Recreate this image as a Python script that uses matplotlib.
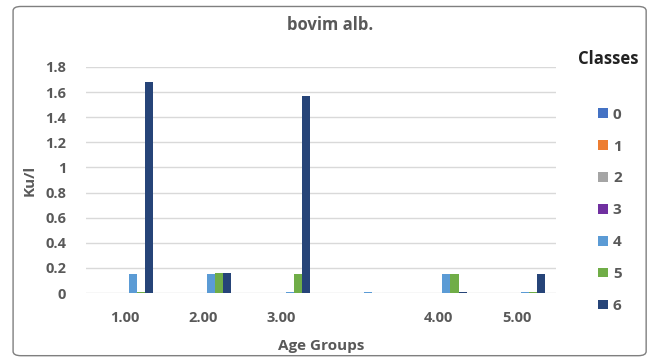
import matplotlib
matplotlib.use("Agg")
import matplotlib.pyplot as plt
import numpy as np
from matplotlib.patches import FancyBboxPatch

plt.rcParams["font.family"] = ["Open Sans", "DejaVu Sans"]

age_groups = ["1.00", "2.00", "3.00", "", "4.00", "5.00"]
classes = ["0", "1", "2", "3", "4", "5", "6"]
class0 = [0, 0, 0, 0, 0, 0]
class1 = [0, 0, 0, 0, 0, 0]
class2 = [0, 0, 0, 0, 0, 0]
class3 = [0, 0, 0, 0, 0, 0]
class4 = [0.15, 0.15, 0.005, 0.005, 0.15, 0.005]
class5 = [0.005, 0.16, 0.15, 0, 0.15, 0.005]
class6 = [1.68, 0.16, 1.57, 0, 0.005, 0.15]
series = [class0, class1, class2, class3, class4, class5, class6]
colors = ["#4472C4", "#ED7D31", "#A5A5A5", "#7030A0", "#5B9BD5", "#70AD47", "#264478"]

GRAY = "#595959"

fig = plt.figure(figsize=(6.54, 3.6), dpi=100)
ax = fig.add_axes([0.131, 0.186, 0.719, 0.628])

# rounded chart border
fig.patches.append(FancyBboxPatch((0.02, 0.012), 0.968, 0.97, boxstyle="round,pad=0,rounding_size=0.012",
                                  transform=fig.transFigure, fill=False, edgecolor="#7f7f7f", lw=1.0))

x = np.arange(len(age_groups))
w = 0.103
for i, (vals, c) in enumerate(zip(series, colors)):
    ax.bar(x + (i - 3) * w, vals, width=w, color=c, edgecolor="none", label=classes[i], zorder=3)

ax.set_xlim(-0.5, len(age_groups) - 0.5)
ax.set_ylim(0, 1.8)
ax.set_yticks(np.arange(0, 1.81, 0.2))
ax.set_yticklabels(["0", "0.2", "0.4", "0.6", "0.8", "1", "1.2", "1.4", "1.6", "1.8"])
ax.set_xticks(x)
ax.set_xticklabels(age_groups)
ax.yaxis.grid(True, color="#d9d9d9", lw=1.0, zorder=0)
ax.tick_params(axis="y", length=0, labelsize=10.5, labelcolor=GRAY, pad=14)
ax.tick_params(axis="x", length=0, labelsize=10.5, labelcolor=GRAY, pad=13)
for lab in ax.get_xticklabels() + ax.get_yticklabels():
    lab.set_fontweight("bold")
for s in ax.spines.values():
    s.set_visible(False)

ax.set_xlabel("Age Groups", fontsize=11, fontweight="bold", color=GRAY, labelpad=10)
ax.set_ylabel("Ku/l", fontsize=11, fontweight="bold", color=GRAY, labelpad=6)
fig.text(0.505, 0.93, "bovim alb.", ha="center", va="center", fontsize=12, fontweight="bold", color=GRAY)

fig.text(0.93, 0.835, "Classes", ha="center", va="center", fontsize=12, fontweight="bold", color="#222222")
leg = fig.legend(loc="upper left", bbox_to_anchor=(0.915, 0.701), frameon=False,
                 fontsize=11, handlelength=0.6, handleheight=0.6, handletextpad=0.35, labelspacing=1.17,
                 borderaxespad=0, borderpad=0)
for t in leg.get_texts():
    t.set_color(GRAY)
    t.set_fontweight("bold")

fig.savefig("out.png", dpi=100)
